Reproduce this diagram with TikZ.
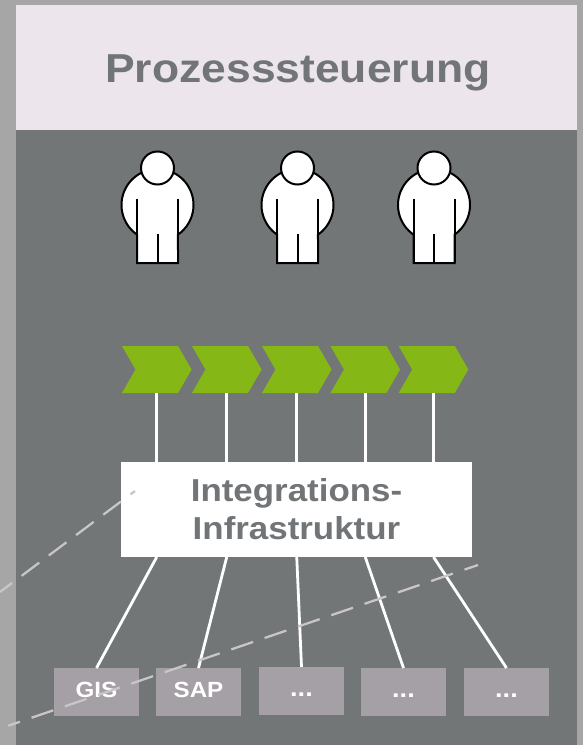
\documentclass[tikz,border=0pt]{standalone}
\usepackage{fontspec}
\setmainfont[FakeStretch=1.1]{Liberation Sans}
\usetikzlibrary{calc}
\definecolor{margin}{HTML}{A6A6A6}
\definecolor{panel}{HTML}{737677}
\definecolor{head}{HTML}{ECE6EC}
\definecolor{titlecol}{HTML}{727577}
\definecolor{chev}{HTML}{85B716}
\definecolor{srcbox}{HTML}{A5A0A5}
\definecolor{dashcol}{HTML}{C9C5C9}
\tikzset{
  chevron/.style={shape=rectangle,inner sep=0pt,outer sep=0pt,minimum width=52.2pt,minimum height=35.25pt},
  source/.style={fill=srcbox,text=white,inner sep=0pt,outer sep=0pt,minimum width=63.75pt,minimum height=36pt,
    text height=12pt,text depth=4.5pt,font=\bfseries\fontsize{16.5pt}{18pt}\selectfont},
  dots/.style={font=\bfseries\fontsize{18.5pt}{18pt}\selectfont},
  conn/.style={draw=white,line width=2.1pt},
  guide/.style={draw=dashcol,line width=1.7pt},
  figure/.style={draw=black,line width=1.5pt,fill=white}
}
\begin{document}
\begin{tikzpicture}[x=0.75pt,y=-0.75pt]
\useasboundingbox (0,0) rectangle (583,745);
\fill[margin] (0,0) rectangle (583,745);
\fill[panel] (16,130) rectangle (577,745);
\node[fill=head,inner sep=0pt,outer sep=0pt,minimum width=420.75pt,minimum height=93.75pt,text=titlecol,
  text height=25pt,text depth=3.2pt,font=\bfseries\fontsize{30.3pt}{36pt}\selectfont] (title) at (296.5,67.5) {\hspace*{2.2pt}Prozesssteuerung};
\foreach \px in {157.5,297.5,434}{
  \begin{scope}[shift={(\px,205)}]
    \draw[figure] plot[domain=124.7:415.3,samples=80] ({36*cos(\x)},{36*sin(\x)}) -- (20.5,58) -- (-20.5,58) -- cycle;
    \draw[black,line width=1.5pt] (-20.5,-6) -- (-20.5,58) (20.5,-6) -- (20.5,58) (0,29) -- (0,58);
    \draw[figure] (0,-37) circle[radius=16.5];
  \end{scope}
}
\node[chevron] (c1) at (156.75,369.5) {};
\node[chevron] (c2) at (226.75,369.5) {};
\node[chevron] (c3) at (296.75,369.5) {};
\node[chevron] (c4) at (365.25,369.5) {};
\node[chevron] (c5) at (433.5,369.5) {};
\foreach \i in {1,...,5}{
  \fill[chev] (c\i.north west) -- ($(c\i.north east)+(-13.5,0)$) -- (c\i.east)
    -- ($(c\i.south east)+(-13.5,0)$) -- (c\i.south west) -- ($(c\i.west)+(13.5,0)$) -- cycle;
}
\node[fill=white,inner sep=0pt,outer sep=0pt,minimum width=263.25pt,minimum height=71.25pt,text=titlecol,align=center,
  text depth=1.2pt,font=\bfseries\fontsize{23.8pt}{28.5pt}\selectfont] (int) at (296.5,509.5) {Integrations-\\Infrastruktur};
\node[source] (s1) at (96.5,692) {GIS};
\node[source] (s2) at (198.5,692) {SAP};
\node[source,dots] (s3) at (301.5,691) {...};
\node[source,dots] (s4) at (403.5,692) {...};
\node[source,dots] (s5) at (506.5,692) {...};
\foreach \i in {1,...,5}{
  \draw[conn] (c\i.south) -- (c\i.south |- int.north);
  \draw[conn] (c\i.south |- int.south) -- (s\i.north);
}
\coordinate (g1a) at (0,592);
\coordinate (g1b) at (135,491);
\coordinate (g2a) at (8.3,725.7);
\coordinate (g2b) at (478,565);
\draw[guide,dash pattern=on 16.5pt off 9pt,dash phase=5.25pt] (g1a) -- (g1b);
\draw[guide,dash pattern=on 17.2pt off 9.2pt,dash phase=8pt] (g2a) -- (g2b);
\end{tikzpicture}
\end{document}
